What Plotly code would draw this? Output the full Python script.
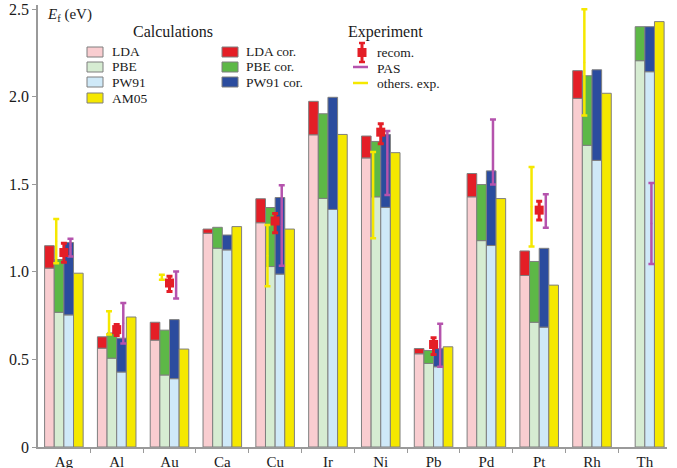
import plotly.graph_objects as go

# ---------------- data ----------------
elements = ["Ag", "Al", "Au", "Ca", "Cu", "Ir", "Ni", "Pb", "Pd", "Pt", "Rh", "Th"]

lda      = [1.021, 0.564, 0.610, 1.220, 1.280, 1.782, 1.650, 0.532, 1.428, 0.979, 1.990, None]
lda_cor  = [1.149, 0.629, 0.712, 1.244, 1.417, 1.973, 1.775, 0.562, 1.561, 1.119, 2.148, None]
pbe      = [0.769, 0.507, 0.411, 1.135, 1.030, 1.419, 1.428, 0.477, 1.178, 0.712, 1.722, 2.205]
pbe_cor  = [1.070, 0.651, 0.667, 1.254, 1.367, 1.902, 1.744, 0.551, 1.498, 1.059, 2.119, 2.399]
pw91     = [0.754, 0.428, 0.390, 1.125, 0.987, 1.356, 1.368, 0.458, 1.150, 0.684, 1.636, 2.142]
pw91_cor = [1.167, 0.621, 0.727, 1.210, 1.424, 1.996, 1.784, 0.561, 1.576, 1.134, 2.153, 2.399]
am05     = [0.992, 0.742, 0.559, 1.258, 1.244, 1.784, 1.680, 0.572, 1.418, 0.924, 2.019, 2.428]

# recommended experimental values (value, lower, upper)
recom     = [1.110, 0.670, 0.936, None, 1.290, None, 1.797, 0.585, None, 1.352, None, None]
recom_lo  = [1.055, 0.636, 0.888, None, 1.223, None, 1.731, 0.528, None, 1.295, None, None]
recom_hi  = [1.163, 0.699, 0.974, None, 1.333, None, 1.845, 0.623, None, 1.403, None, None]

# positron annihilation spectroscopy ranges
pas_lo = [1.087, 0.591, 0.847, None, 1.034, None, 1.438, 0.458, 1.498, 1.252, None, 1.045]
pas_hi = [1.188, 0.822, 1.002, None, 1.494, None, 1.803, 0.704, 1.869, 1.443, None, 1.507]

# other experimental ranges
oth_lo = [1.049, 0.642, 0.955, None, 0.917, None, 1.191, None, None, 1.144, 1.892, None]
oth_hi = [1.301, 0.775, 0.983, None, 1.267, None, 1.684, None, None, 1.598, 2.498, None]

y_ticks = [0, 0.5, 1.0, 1.5, 2.0, 2.5]
y_tick_text = ["0", "0.5", "1.0", "1.5", "2.0", "2.5"]

# ---------------- styles ----------------
C_LDA, C_PBE, C_PW91, C_AM05 = "#f9cdd0", "#d6ecd2", "#cfe9f8", "#f5e800"
C_LDAC, C_PBEC, C_PW91C = "#e41e26", "#5db847", "#2b4c9e"
C_PAS, C_OTH, C_REC = "#b553ad", "#f5e800", "#e41e26"
OUTLINE = dict(color="#7f7f7f", width=1)
FONT = "Liberation Serif"
TXT = "#1a1a1a"

xs = list(range(len(elements)))

fig = go.Figure()

def base_bar(name, vals, color, group):
    fig.add_trace(go.Bar(x=xs, y=vals, name=name, offsetgroup=group,
                         marker=dict(color=color, line=OUTLINE), showlegend=False))

def cor_bar(name, base, total, color, group):
    diff = [None if (b is None or t is None) else t - b for b, t in zip(base, total)]
    fig.add_trace(go.Bar(x=xs, y=diff, base=base, name=name, offsetgroup=group,
                         marker=dict(color=color, line=OUTLINE), showlegend=False))

base_bar("LDA", lda, C_LDA, "g1")
cor_bar("LDA cor.", lda, lda_cor, C_LDAC, "g1")
base_bar("PBE", pbe, C_PBE, "g2")
cor_bar("PBE cor.", pbe, pbe_cor, C_PBEC, "g2")
base_bar("PW91", pw91, C_PW91, "g3")
cor_bar("PW91 cor.", pw91, pw91_cor, C_PW91C, "g3")
base_bar("AM05", am05, C_AM05, "g4")

def range_trace(name, lo, hi, color, dx):
    xx, yy, ee = [], [], []
    for i, (a, b) in enumerate(zip(lo, hi)):
        if a is None:
            continue
        xx.append(i + dx)
        yy.append((a + b) / 2)
        ee.append((b - a) / 2)
    fig.add_trace(go.Scatter(x=xx, y=yy, mode="markers", name=name, showlegend=False,
                             marker=dict(size=2, color=color),
                             error_y=dict(type="data", array=ee, symmetric=True,
                                          color=color, thickness=2.5, width=3)))

range_trace("others. exp.", oth_lo, oth_hi, C_OTH, -0.145)
range_trace("PAS", pas_lo, pas_hi, C_PAS, 0.125)

rx, ry, rp, rm = [], [], [], []
for i, (v, a, b) in enumerate(zip(recom, recom_lo, recom_hi)):
    if v is None:
        continue
    rx.append(i)
    ry.append(v)
    rp.append(b - v)
    rm.append(v - a)
fig.add_trace(go.Scatter(x=rx, y=ry, mode="markers", name="recom.", showlegend=False,
                         marker=dict(symbol="square", size=9, color=C_REC),
                         error_y=dict(type="data", array=rp, arrayminus=rm, symmetric=False,
                                      color=C_REC, thickness=3, width=3)))

# ---------------- layout ----------------
W, H = 677, 468
ML, MR, MT, MB = 38, 10, 5, 21
PW, PH = W - ML - MR, H - MT - MB
Y_PER_UNIT = 175.2
Y_TOP = PH / Y_PER_UNIT

def PX(px):
    return (px - ML) / PW

def PY(py):
    return (H - MB - py) / PH

shapes = []
annotations = []

def swatch(x0, y0, color):
    shapes.append(dict(type="rect", xref="paper", yref="paper",
                       x0=PX(x0), x1=PX(x0 + 16), y0=PY(y0), y1=PY(y0 + 10),
                       fillcolor=color, line=dict(color="#7f7f7f", width=1)))

def label(x, y, text, size=13.5, anchor="left"):
    annotations.append(dict(xref="paper", yref="paper", x=PX(x), y=PY(y), text=text,
                            showarrow=False, xanchor=anchor, yanchor="middle",
                            font=dict(family=FONT, size=size, color=TXT)))

label(173, 31, "Calculations", 16, "center")
label(386, 32, "Experiment", 16, "center")

rows = [47, 62, 77, 93]
for (txt, col), ry0 in zip([("LDA", C_LDA), ("PBE", C_PBE), ("PW91", C_PW91), ("AM05", C_AM05)], rows):
    swatch(87, ry0, col)
    label(110, ry0 + 5, txt)
for (txt, col), ry0 in zip([("LDA cor.", C_LDAC), ("PBE cor.", C_PBEC), ("PW91 cor.", C_PW91C)], rows):
    swatch(222, ry0, col)
    label(244, ry0 + 5, txt)

# experiment legend symbols
shapes.append(dict(type="line", xref="paper", yref="paper", x0=PX(362), x1=PX(362),
                   y0=PY(43), y1=PY(62), line=dict(color=C_REC, width=3)))
for yy in (43, 62):
    shapes.append(dict(type="line", xref="paper", yref="paper", x0=PX(359), x1=PX(365),
                       y0=PY(yy), y1=PY(yy), line=dict(color=C_REC, width=2.5)))
shapes.append(dict(type="rect", xref="paper", yref="paper", x0=PX(357.5), x1=PX(366.5),
                   y0=PY(48), y1=PY(57), fillcolor=C_REC, line=dict(width=0)))
label(375, 53, "recom.")
shapes.append(dict(type="line", xref="paper", yref="paper", x0=PX(353), x1=PX(368),
                   y0=PY(67), y1=PY(67), line=dict(color=C_PAS, width=2.5)))
label(375, 68, "PAS")
shapes.append(dict(type="line", xref="paper", yref="paper", x0=PX(353), x1=PX(368),
                   y0=PY(83), y1=PY(83), line=dict(color=C_OTH, width=2.5)))
label(375, 83, "others. exp.")

# axis title
annotations.append(dict(xref="paper", yref="paper", x=PX(45), y=PY(15),
                        text="<i>E</i><sub>f</sub> (eV)", showarrow=False,
                        xanchor="left", yanchor="middle",
                        font=dict(family=FONT, size=15, color=TXT)))

fig.update_layout(
    width=W, height=H,
    margin=dict(l=ML, r=MR, t=MT, b=MB, autoexpand=False),
    paper_bgcolor="white", plot_bgcolor="white",
    barmode="group", bargap=0.27, bargroupgap=0,
    showlegend=False,
    shapes=shapes, annotations=annotations,
    font=dict(family=FONT, color=TXT),
    xaxis=dict(range=[-0.49, 11.42], tickvals=xs, ticktext=elements, automargin=False,
               ticks="", showgrid=False, zeroline=False,
               showline=True, linecolor="#9a9a9a", linewidth=1.5,
               tickfont=dict(family=FONT, size=15, color=TXT),
               minor=dict(tickvals=[i + 0.5 for i in xs[:-1]], ticks="outside",
                          ticklen=4, tickcolor="#9a9a9a", tickwidth=1, showgrid=False)),
    yaxis=dict(range=[0, Y_TOP], tickvals=y_ticks, ticktext=y_tick_text, automargin=False,
               ticks="outside", ticklen=4, tickcolor="#9a9a9a", showgrid=False,
               ticklabeloverflow="allow",
               zeroline=False, showline=True, linecolor="#9a9a9a", linewidth=1.5,
               tickfont=dict(family=FONT, size=16, color=TXT)),
)

fig.write_html("out.html", config={"displayModeBar": False},
               post_script="document.body.style.margin='0px';")
